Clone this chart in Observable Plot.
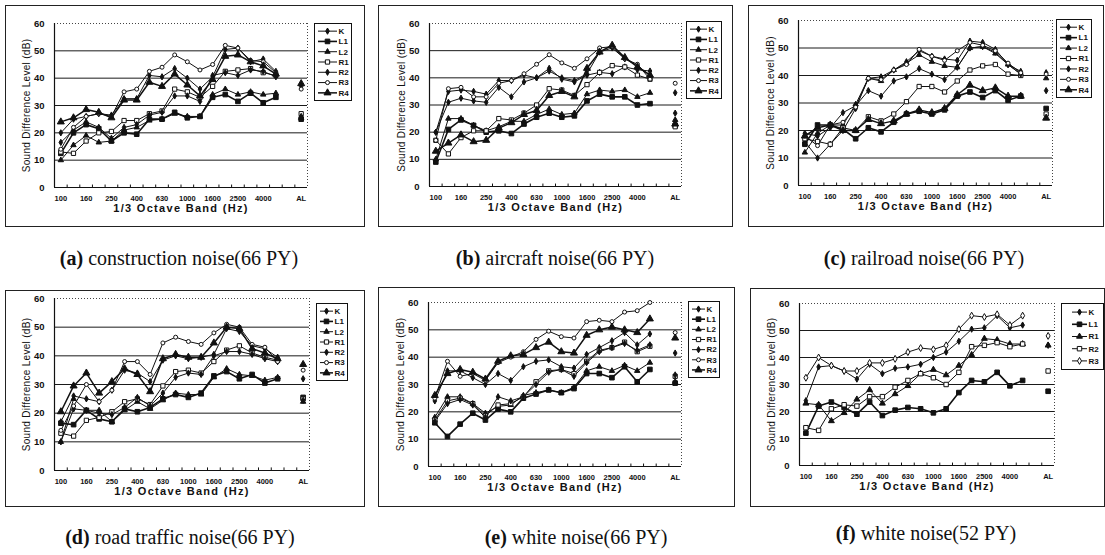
<!DOCTYPE html>
<html><head><meta charset="utf-8">
<script src="https://cdn.jsdelivr.net/npm/d3@7"></script>
<script src="https://cdn.jsdelivr.net/npm/@observablehq/plot@0.6"></script>
<style>
html,body{margin:0;padding:0;background:#fff;}
body{width:1105px;height:555px;position:relative;overflow:hidden;font-family:"Liberation Sans",Arial,sans-serif;}
.panel{position:absolute;border:1px solid #222;box-sizing:border-box;background:#fff;}
.panel svg.plot{position:absolute;left:0;top:0;overflow:visible;}
.legend{position:absolute;border:1px solid #111;box-sizing:border-box;background:#fff;}
.caption{position:absolute;font-family:"Liberation Serif","Times New Roman",serif;font-size:20px;white-space:nowrap;transform:translateX(-50%);color:#111;line-height:1;}
</style></head><body>
<script>
// ---------- data ----------
const bands = ["100","125","160","200","250","315","400","500","630","800","1000","1250","1600","2000","2500","3150","4000","5000"];
const tickLabels = ["100","160","250","400","630","1000","1600","2500","4000","AL"];
const seriesSeven = ["K","L1","L2","R1","R2","R3","R4"];
const seriesFive = ["K","L1","R1","R2","R3"];

// (a) construction noise (66 PY)
const constructionK  = [20,25,26,27,26.5,32.5,32.5,41,40.5,43.5,40,36,40.5,50.5,51,46,47,42.5];
const constructionL1 = [12.5,20,23,21.5,17,20,19.5,25,25,27.5,25.5,26,33,34,31.5,34.5,31,33];
const constructionL2 = [10,15.5,19,16.5,17,21,22,24.5,25,27,26,26,34,36,34,35,34,34.5];
const constructionR1 = [13,12.5,17,20,20.5,24.5,24.5,27,28,36,35,33,37,42.5,43,43.5,42,41];
const constructionR2 = [16.5,21,24,22,18,22,23,26.5,27.5,33.5,33.5,31.5,41,42,41,43,42.5,40.5];
const constructionR3 = [14,22,26,27,26,35,36,42.5,44,48.5,46,43,45,52,51,46.5,46,42];
const constructionR4 = [24,25.5,28.5,27.5,25.5,32,32,38.5,37,41.5,37.5,33.5,39.5,48,48.5,46,44.5,41.5];
const constructionAL = [37,25,25.5,27,26,36,38];

// (b) aircraft noise (66 PY)
const aircraftK  = [20,35,35.5,35,34,39,39,41,40,43.5,39.5,38.5,41,42,41.5,44,43,42.5];
const aircraftL1 = [9,21,24.5,22.5,20,20.5,19.5,23,25.5,27,25.5,26,31.5,34,33,33,30,30.5];
const aircraftL2 = [10,25,25,22.5,20.5,22,24,24,26.5,28.5,26.5,27,34,35.5,35,35.5,33,34.5];
const aircraftR1 = [17,12,18,20.5,20.5,25,24.5,27,30,36,35.5,33.5,37.5,42,44.5,44,41,39.5];
const aircraftR2 = [20,31,32.5,31.5,31,36.5,33,38.5,40,42.5,40,39,41.5,49.5,51,47,44.5,41];
const aircraftR3 = [17,36,36.5,33,33,38,39,41.5,45,48.5,45.5,43.5,47,51,51.5,47,45,39.5];
const aircraftR4 = [13,16,19,16.5,17,21.5,23.5,26.5,28,33.5,35,33,43.5,49.5,52,47.5,44,41];
const aircraftAL = [34.5,22.5,24.5,22,27,38,23];

// (c) railroad noise (66 PY)
const railroadK  = [16,10,15,20,28,39,39.5,42,45,49,47,46,45.5,52.5,52,49.5,44,41.5];
const railroadL1 = [15,22,22,20.5,17,21,19.5,23,26,27,26,27.5,32.5,34,32,34.5,31,32.5];
const railroadL2 = [12,19,22,22,29.5,39,38,42,44.5,47.5,45,43.5,43,50,50.5,48,44,40.5];
const railroadR1 = [17,16,15,21,20,25,23.5,26,30.5,36,36,34,38,42,43.5,44,40.5,40];
const railroadR2 = [19,18,21,26.5,29,34.5,32.5,38,39.5,42.5,40.5,38.5,43,50,50.5,48.5,44,40.5];
const railroadR3 = [18,14.5,22,23,28.5,39,38.5,42,44,49.5,47,45.5,49,52,51,49,44.5,41];
const railroadR4 = [18,21,22,20,20,24,22.5,23.5,26,27.5,26.5,28,33,36.5,34.5,35.5,32.5,32.5];
const railroadAL = [41,28,39,26,34.5,40.5,24.5];

// (d) road traffic noise (66 PY)
const roadK  = [17,26,25,24,28,35,34,31,38.5,40,39,39.5,40.5,49.5,48.5,43.5,42.5,39.5];
const roadL1 = [16.5,16,21,18,17,21.5,20.5,22,25,26.5,25.5,27,33,34.5,32,33.5,30.5,32];
const roadL2 = [10,25,21,21,17,21,24,21.5,24.5,27,26.5,26.5,32.5,35.5,33.5,33,31.5,32.5];
const roadR1 = [13,12,17.5,18.5,20.5,24,25,23,29.5,34.5,35,34,38,42,43.5,41,39.5,38.5];
const roadR2 = [10,21.5,21,20,19.5,22,25.5,22.5,27,32.5,34,33.5,40,41.5,41.5,40.5,39,38];
const roadR3 = [14,22.5,30,24,28,38,38,33.5,44.5,46.5,45,44,48,51,50,44,43,38];
const roadR4 = [20.5,29.5,34,27,31,35.5,33.5,27.5,39,40.5,39.5,39.5,44.5,50,49.5,42.5,41,39];
const roadAL = [32,25.5,24,25,24.5,35,37];

// (e) white noise (66 PY)
const white66K  = [24,35,35,32.5,30,34,31.5,36.5,38.5,39,36.5,36,41,43.5,46,49,44.5,48.5];
const white66L1 = [16,11,15.5,19.5,17,21,20,25,26.5,28,27,28.5,34,34,32.5,36.5,31,35.5];
const white66L2 = [18,25.5,25.5,23,19.5,22,22.5,26,27,28,27,29,35,36.5,35,37,35,38];
const white66R1 = [17,24,25,23,18.5,22.5,23,25.5,31,35,35.5,34,38.5,42.5,43.5,45.5,42,44];
const white66R2 = [16.5,23,24.5,22.5,18,25.5,24,25.5,30,34.5,35.5,33,38,42,43.5,45,42.5,44.5];
const white66R3 = [25,38.5,33,34,31.5,38,40,42,46.5,49.5,47.5,47,53,53.5,53,56.5,57,60];
const white66R4 = [26,34,35.5,34.5,32,38.5,40.5,41,43.5,45.5,42,41.5,48,50,51,50,49,54];
const white66AL = [41.5,30.5,31,33,33.5,49,47];

// (f) white noise (52 PY)
const white52K  = [24,36.5,37,35,32,37.5,34,36,36.5,37.5,40,42,46,50.5,51,55.5,51,52];
const white52L1 = [12,22,23.5,21.5,19,23.5,18.5,20.5,21.5,21,19.5,21,27,31.5,31,34.5,29.5,31.5];
const white52R1 = [23,22.5,16.5,19.5,24.5,28,23,26.5,29.5,34,35.5,33.5,37,41,47,46.5,45,45];
const white52R2 = [14,13,21,22.5,22,25.5,25.5,29,31.5,34,32.5,30,34.5,44,44.5,45.5,44,45];
const white52R3 = [32.5,40,37,35,35,38,38,39.5,42,43.5,43,44.5,50.5,55.5,55,56,52,55.5];
const white52AL = [44.5,27.5,44.5,35,48];

// ---------- styles ----------
const INK = "#111";
const styleSeven = {
  K:  {symbol:"diamond",  r:1.9, fill:INK,    w:1.0},
  L1: {symbol:"square",   r:2.6, fill:INK,    w:1.6},
  L2: {symbol:"triangle", r:2.0, fill:INK,    w:1.0},
  R1: {symbol:"square",   r:2.4, fill:"#fff", w:1.0},
  R2: {symbol:"diamond",  r:1.9, fill:INK,    w:1.0},
  R3: {symbol:"circle",   r:2.0, fill:"#fff", w:1.0},
  R4: {symbol:"triangle", r:2.6, fill:INK,    w:1.5}
};
const styleFive = {
  K:  {symbol:"diamond",  r:1.9, fill:INK,    w:1.0},
  L1: {symbol:"square",   r:2.6, fill:INK,    w:1.6},
  R1: {symbol:"triangle", r:2.2, fill:INK,    w:1.0},
  R2: {symbol:"square",   r:2.5, fill:"#fff", w:1.0},
  R3: {symbol:"diamond",  r:2.1, fill:"#fff", w:1.0}
};

const panels = [
  {letter:"(a)", title:" construction noise(66 PY)", series:seriesSeven, st:styleSeven,
   vals:{K:constructionK,L1:constructionL1,L2:constructionL2,R1:constructionR1,R2:constructionR2,R3:constructionR3,R4:constructionR4}, al:constructionAL,
   frame:[5,5,360,222], m:[17,57,39,48], legend:[308,17,38,78], cap:[179,248]},
  {letter:"(b)", title:" aircraft noise(66 PY)", series:seriesSeven, st:styleSeven,
   vals:{K:aircraftK,L1:aircraftL1,L2:aircraftL2,R1:aircraftR1,R2:aircraftR2,R3:aircraftR3,R4:aircraftR4}, al:aircraftAL,
   frame:[378,5,355,222], m:[17,51,40,50], legend:[307,15,36,78], cap:[555,248]},
  {letter:"(c)", title:" railroad noise(66 PY)", series:seriesSeven, st:styleSeven,
   vals:{K:railroadK,L1:railroadL1,L2:railroadL2,R1:railroadR1,R2:railroadR2,R3:railroadR3,R4:railroadR4}, al:railroadAL,
   frame:[748,5,356,222], m:[14,51,41,49], legend:[307,13,36,79], cap:[924,248]},
  {letter:"(d)", title:" road traffic noise(66 PY)", series:seriesSeven, st:styleSeven,
   vals:{K:roadK,L1:roadL1,L2:roadL2,R1:roadR1,R2:roadR2,R3:roadR3,R4:roadR4}, al:roadAL,
   frame:[5,290,360,217], m:[7,55,36,48], legend:[310,12,32,78], cap:[180,527]},
  {letter:"(e)", title:" white noise(66 PY)", series:seriesSeven, st:styleSeven,
   vals:{K:white66K,L1:white66L1,L2:white66L2,R1:white66R1,R2:white66R2,R3:white66R3,R4:white66R4}, al:white66AL,
   frame:[378,287,357,220], m:[14,53,40,49], legend:[309,13,32,77], cap:[576,527]},
  {letter:"(f)", title:" white noise(52 PY)", series:seriesFive, st:styleFive,
   vals:{K:white52K,L1:white52L1,R1:white52R1,R2:white52R2,R3:white52R3}, al:white52AL,
   frame:[750,288,355,219], m:[14,50,41,48], legend:[310,14,43,67], cap:[926,523]}
];

const xTickIdx = [0,2,4,6,8,10,12,14,16,19];
const tickText = i => i === 19 ? tickLabels[tickLabels.length - 1] : bands[i];

function symbolType(name){
  return {diamond:d3.symbolDiamond, square:d3.symbolSquare, triangle:d3.symbolTriangle, circle:d3.symbolCircle}[name];
}

const X_TITLE = "1/3 Octave Band (Hz)";
const Y_TITLE = "Sound Difference Level (dB)";

for (const p of panels) {
  const [fx, fy, fw, fh] = p.frame;
  const div = document.createElement("div");
  div.className = "panel";
  Object.assign(div.style, {left: fx + "px", top: fy + "px", width: fw + "px", height: fh + "px"});
  document.body.appendChild(div);

  const rows = [];
  p.series.forEach((s, k) => {
    p.vals[s].forEach((v, i) => rows.push({s, i, v, al:false}));
    rows.push({s, i: 19, v: p.al[k], al:true});
  });

  const lineMarks = [], dotMarks = [];
  for (const s of p.series) {
    const st = p.st[s];
    const sr = rows.filter(d => d.s === s);
    lineMarks.push(Plot.line(sr.filter(d => !d.al), {x:"i", y:"v", stroke:INK, strokeWidth:st.w}));
    dotMarks.push(Plot.dot(sr, {x:"i", y:"v", symbol:st.symbol, r:st.r, fill:st.fill, stroke:INK, strokeWidth:1}));
  }

  const [mt, mr, mb, ml] = p.m;
  const chart = Plot.plot({
    width: fw - 2, height: fh - 2,
    marginTop: mt, marginRight: mr, marginBottom: mb, marginLeft: ml,
    style: {fontFamily:"Liberation Sans, Arial, sans-serif", background:"transparent", color:INK, overflow:"visible"},
    x: {domain:[-0.5, 19.5], axis:null},
    y: {domain:[0, 60], axis:null},
    marks: [
      Plot.ruleY([10,20,30,40,50], {stroke:"#1a1a1a", strokeWidth:1}),
      Plot.ruleY([60], {stroke:"#444", strokeDasharray:"1,2"}),
      Plot.ruleX([19.5], {stroke:"#444", strokeDasharray:"1,2"}),
      Plot.ruleX(d3.range(0.5, 19, 1), {y1:0, y2:0.9, stroke:INK}),
      Plot.ruleY([0], {stroke:INK, strokeWidth:1.2}),
      Plot.ruleX([-0.5], {stroke:INK, strokeWidth:1.2}),
      Plot.axisY({ticks:[0,10,20,30,40,50,60], tickSize:0, tickPadding:10, fontSize:9.5, fontWeight:"bold", label:null}),
      Plot.axisX({ticks:xTickIdx, tickFormat:tickText, tickSize:0, tickPadding:8, fontSize:7.5, fontWeight:"bold", label:null}),
      Plot.text([X_TITLE], {text:d => d, frameAnchor:"bottom", textAnchor:"middle", dy:24, fontSize:11, fontWeight:"bold", fill:INK}),
      Plot.text([Y_TITLE], {text:d => d, frameAnchor:"left", textAnchor:"middle", dx:-28, rotate:-90, fontSize:10, fill:INK}),
      ...lineMarks,
      ...dotMarks
    ]
  });
  chart.classList.add("plot");
  d3.select(chart).selectAll("text").filter(function(){ return this.textContent === X_TITLE; }).attr("letter-spacing", "1.3");
  d3.select(chart).selectAll("text").filter(function(){ return this.textContent === Y_TITLE; }).attr("letter-spacing", "0.3");
  div.appendChild(chart);

  // legend box
  const [lx, ly, lw, lh] = p.legend;
  const lg = document.createElement("div");
  lg.className = "legend";
  Object.assign(lg.style, {left: lx + "px", top: ly + "px", width: lw + "px", height: lh + "px"});
  div.appendChild(lg);
  const svg = d3.select(lg).append("svg").attr("width", lw - 2).attr("height", lh - 2).style("display","block").style("overflow","visible");
  const n = p.series.length, rowH = (lh - 6) / n;
  const five = p.series.length === 5;
  const x0 = five ? 10 : 3, x1 = five ? 25 : lw - 16;
  p.series.forEach((s, k) => {
    const st = p.st[s];
    const yy = 2 + rowH * (k + 0.5);
    const g = svg.append("g");
    g.append("line").attr("x1", x0).attr("x2", x1).attr("y1", yy).attr("y2", yy).attr("stroke", INK).attr("stroke-width", st.w);
    g.append("path").attr("d", d3.symbol(symbolType(st.symbol), Math.PI * st.r * st.r)()).attr("transform", `translate(${(x0 + x1) / 2},${yy})`)
      .attr("fill", st.fill).attr("stroke", INK).attr("stroke-width", 1);
    g.append("text").attr("x", x1 + 1.5).attr("y", yy).attr("dy", "0.35em").attr("font-size", 8).attr("font-weight", "bold")
      .attr("font-family", "Liberation Sans, Arial, sans-serif").attr("fill", INK).text(s);
  });

  // caption
  const cap = document.createElement("div");
  cap.className = "caption";
  cap.innerHTML = `<b>${p.letter}</b>${p.title}`;
  Object.assign(cap.style, {left: p.cap[0] + "px", top: p.cap[1] + "px"});
  document.body.appendChild(cap);
}
</script>
</body></html>
